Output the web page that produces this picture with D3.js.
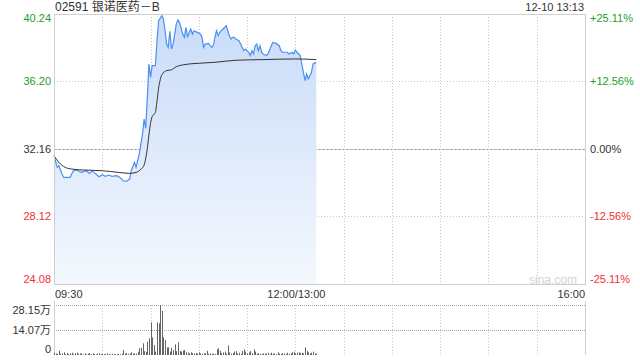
<!DOCTYPE html>
<html>
<head>
<meta charset="utf-8">
<script src="https://cdn.jsdelivr.net/npm/d3@7"></script>
<style>
  body { margin: 0; background: #fff; }
  text { font-family: "Liberation Sans", Arial, "Noto Sans CJK SC", sans-serif; }
</style>
</head>
<body>
<div id="chart"></div>
<script>
// minutes since 09:30 (12:00 and 13:00 share index 150)
var priceMin = [0,2,3,5,6,10,11,12,14,17,20,22,24,26,28,30,32,34,36,39,41,43,45,47,48,50,51,53,55,56,57,58,59,60,61,63,64,65,67,68,69,70,71,72,73,74,75,76,77,78,80,81,82,83,84,85,86,87,89,91,92,93,94,96,98,99,100,101,102,103,104,105,106,107,109,110,111,112,113,115,117,118,119,120,121,122,123,124,125,126,127,128,129,130,132,133,135,136,138,140,141,142,143,145,146,148,149,150,151,153,154,155,156,157,158,159,160,161,162,163];
var price = [31.76,31.06,31.16,30.66,30.46,30.46,30.66,30.86,30.90,30.76,30.86,30.70,30.86,30.66,30.50,30.62,30.52,30.60,30.52,30.56,30.46,30.26,30.22,30.36,30.86,31.36,31.06,31.86,33.06,33.95,33.40,35.25,37.25,36.45,37.15,37.15,38.64,39.84,40.14,39.94,39.24,38.44,38.24,39.20,38.14,38.44,39.04,39.64,39.88,39.74,39.04,38.84,39.44,38.84,39.14,39.34,39.04,39.24,39.14,39.04,38.84,38.24,38.44,38.48,38.24,38.34,38.84,39.24,38.94,39.14,39.24,39.34,39.44,39.54,38.94,38.74,38.84,38.84,38.74,38.64,38.24,38.05,38.14,38.05,37.95,37.75,38.05,37.85,38.34,38.44,38.05,38.34,37.95,37.85,37.75,37.85,38.34,38.54,38.48,38.34,38.05,37.95,37.95,37.95,37.85,37.95,37.85,38.09,37.95,37.75,37.25,36.75,36.25,36.65,36.35,36.55,36.75,37.25,37.30,37.35];

var avgMin = [0,3,7,11,19,30,40,47,51,54,56,57,58,59,60,61,63,64,65,66,67,70,73,76,80,84,90,100,113,130,150,163];
var avgPrice = [31.76,31.36,31.06,30.96,30.90,30.86,30.76,30.70,30.76,30.95,31.2,31.6,32.2,33.0,33.7,34.1,34.35,35.0,35.8,36.3,36.6,36.85,36.9,37.09,37.19,37.25,37.29,37.35,37.47,37.51,37.55,37.51];

// volume per minute, in 万
var volume = [1.3,0.8,0.6,2.4,0.7,0.9,1.5,0.5,1.1,0.6,
  0.9,1.3,0.5,1.1,1.3,0.6,0.8,1.0,0.5,0.9,
  0.4,0.7,1.1,0.5,0.9,0.6,0.4,0.8,1.0,0.5,
  0.7,0.4,0.6,0.9,0.5,0.4,0.7,0.6,0.3,0.5,
  0.6,0.4,0.7,2.8,0.8,1.2,0.6,0.9,1.5,0.7,
  1.0,0.8,1.8,3.8,4.1,6.6,2.2,1.8,7.5,9.4,
  18.4,9.9,5.6,1.9,18.4,17.8,28.15,24.9,9.9,8.4,
  4.3,4.3,1.9,4.1,2.8,6.0,2.2,7.1,2.2,1.9,
  2.4,2.8,1.5,1.3,0.9,1.5,1.0,0.9,1.1,0.9,
  1.5,0.8,0.6,1.0,0.9,2.4,0.7,0.9,0.6,0.8,
  0.6,3.2,3.8,2.4,1.0,1.5,1.9,0.8,5.4,1.5,
  0.7,1.1,1.9,2.2,0.8,1.3,0.6,2.4,3.2,1.9,
  0.9,1.5,2.2,1.0,3.2,1.9,0.8,1.0,0.7,0.6,
  0.9,0.7,0.8,1.3,0.6,1.3,0.9,0.7,0.5,1.5,
  0.8,0.6,1.0,0.9,0.6,1.3,0.7,1.0,1.5,1.9,
  0.8,1.3,1.5,1.1,1.3,0.9,4.3,2.2,1.5,0.9,
  1.3,1.9,0.9,0.7];

var priceTicks = [40.24, 36.20, 32.16, 28.12, 24.08];
var pctTicks = ["+25.11%", "+12.56%", "0.00%", "-12.56%", "-25.11%"];
var volTicks = [28.15, 14.07, 0];
var volTickLabels = ["28.15万", "14.07万", "0"];
var timeTicks = [0, 150, 330];
var timeLabels = ["09:30", "12:00/13:00", "16:00"];
var prevClose = 32.16;
var title = "02591 银诺医药－B";
var stamp = "12-10 13:13";

var W = 640, H = 360;
var pL = 54, pR = 585, pT = 14, pB = 284;
var vTop = 305, vBottom = 355;
var green = "#1f9e2c", red = "#ee3030", dark = "#333";

var svg = d3.select("#chart").append("svg")
    .attr("width", W).attr("height", H);

var x = d3.scaleLinear().domain([0, 330]).range([pL, pR]);
var y = d3.scaleLinear().domain([24.08, 40.24]).range([pB, pT]);
var yv = d3.scaleLinear().domain([0, 28.15]).range([vBottom, vTop]);

function tickColor(v) {
    if (Math.abs(v - prevClose) < 0.001) return dark;
    return v > prevClose ? green : red;
}

// gradient for area
var grad = svg.append("defs").append("linearGradient")
    .attr("id", "fill")
    .attr("gradientUnits", "userSpaceOnUse")
    .attr("x1", 0).attr("y1", pT).attr("x2", 0).attr("y2", pB);
grad.append("stop").attr("offset", "0%").attr("stop-color", "#c8dbf8");
grad.append("stop").attr("offset", "100%").attr("stop-color", "#f4f8fe");

// vertical grid every 30 min
var grid = svg.append("g");
d3.range(30, 330, 30).forEach(function (m) {
    grid.append("line")
        .attr("x1", Math.round(x(m)) + 0.5).attr("x2", Math.round(x(m)) + 0.5)
        .attr("y1", pT).attr("y2", pB)
        .attr("stroke", "#c8c8c8").attr("stroke-dasharray", "1,2");
    grid.append("line")
        .attr("x1", Math.round(x(m)) + 0.5).attr("x2", Math.round(x(m)) + 0.5)
        .attr("y1", vTop).attr("y2", vBottom)
        .attr("stroke", "#c8c8c8").attr("stroke-dasharray", "1,2");
});
// horizontal grid
[36.20, 32.16, 28.12].forEach(function (v) {
    grid.append("line")
        .attr("x1", pL).attr("x2", pR)
        .attr("y1", Math.round(y(v)) + 0.5).attr("y2", Math.round(y(v)) + 0.5)
        .attr("stroke", v === prevClose ? "#aaa" : "#c8c8c8")
        .attr("stroke-dasharray", v === prevClose ? "3,1" : "1,2");
});
volTicks.slice(0, 2).forEach(function (v) {
    grid.append("line")
        .attr("x1", pL).attr("x2", pR)
        .attr("y1", Math.round(yv(v)) + 0.5).attr("y2", Math.round(yv(v)) + 0.5)
        .attr("stroke", "#aaa").attr("stroke-dasharray", "1,1");
});

// watermark
svg.append("text")
    .attr("x", 577).attr("y", 280).attr("dy", "0.35em")
    .attr("text-anchor", "end").attr("font-size", 12)
    .attr("fill", "#d4d4d4").text("sina.com");

var pts = priceMin.map(function (m, i) { return [m, price[i]]; });
var avgPts = avgMin.map(function (m, i) { return [m, avgPrice[i]]; });

svg.append("path").datum(pts)
    .attr("fill", "url(#fill)")
    .attr("d", d3.area()
        .x(function (d) { return x(d[0]); })
        .y0(pB)
        .y1(function (d) { return y(d[1]); }));

svg.append("path").datum(pts)
    .attr("fill", "none").attr("stroke", "#4d8ff0").attr("stroke-width", 1.2)
    .attr("d", d3.line()
        .x(function (d) { return x(d[0]); })
        .y(function (d) { return y(d[1]); }));

svg.append("path").datum(avgPts)
    .attr("fill", "none").attr("stroke", "#333").attr("stroke-width", 1)
    .attr("d", d3.line().curve(d3.curveMonotoneX)
        .x(function (d) { return x(d[0]); })
        .y(function (d) { return y(d[1]); }));

// frame
svg.append("rect")
    .attr("x", pL + 0.5).attr("y", pT + 0.5)
    .attr("width", pR - pL).attr("height", pB - pT)
    .attr("fill", "none").attr("stroke", "#cfcfcf");
svg.append("line").attr("x1", pL + 0.5).attr("x2", pL + 0.5)
    .attr("y1", vTop - 4).attr("y2", vBottom).attr("stroke", "#cfcfcf");
svg.append("line").attr("x1", pR + 0.5).attr("x2", pR + 0.5)
    .attr("y1", vTop - 4).attr("y2", vBottom).attr("stroke", "#cfcfcf");

// volume bars
svg.append("g").selectAll("rect").data(volume).enter().append("rect")
    .attr("x", function (d, i) { return Math.round(x(i)); })
    .attr("width", 1)
    .attr("y", function (d) { return yv(d); })
    .attr("height", function (d) { return vBottom - yv(d); })
    .attr("fill", "#666");

// left price labels and right percent labels
priceTicks.forEach(function (v, i) {
    var ty = y(v), dy = "0.35em";
    if (i === 0) { ty = pT; dy = "0.75em"; }
    if (i === priceTicks.length - 1) { ty = pB; dy = "-0.1em"; }
    svg.append("text").attr("x", 51).attr("y", ty).attr("dy", dy)
        .attr("text-anchor", "end").attr("font-size", 11)
        .attr("fill", tickColor(v)).text(v.toFixed(2));
    svg.append("text").attr("x", 590).attr("y", ty).attr("dy", dy)
        .attr("text-anchor", "start").attr("font-size", 11)
        .attr("fill", tickColor(v)).text(pctTicks[i]);
});

// volume labels
volTicks.forEach(function (v, i) {
    var ty = yv(v), dy = "0.35em";
    if (i === 0) { dy = "0.8em"; }
    if (i === volTicks.length - 1) { dy = "-0.15em"; }
    svg.append("text").attr("x", 51).attr("y", ty).attr("dy", dy)
        .attr("text-anchor", "end").attr("font-size", 11)
        .attr("fill", dark).text(volTickLabels[i]);
});

// time labels
timeTicks.forEach(function (m, i) {
    svg.append("text").attr("x", i === 0 ? pL + 1 : (i === 2 ? pR : x(m) + 1))
        .attr("y", 294).attr("dy", "0.35em")
        .attr("text-anchor", i === 0 ? "start" : (i === 2 ? "end" : "middle"))
        .attr("font-size", 11).attr("fill", dark).text(timeLabels[i]);
});

svg.append("text").attr("x", 55).attr("y", 7).attr("dy", "0.35em")
    .attr("font-size", 12).attr("fill", dark).text(title);
svg.append("text").attr("x", 584).attr("y", 7).attr("dy", "0.35em")
    .attr("text-anchor", "end").attr("font-size", 11).attr("fill", dark).text(stamp);
</script>
</body>
</html>
